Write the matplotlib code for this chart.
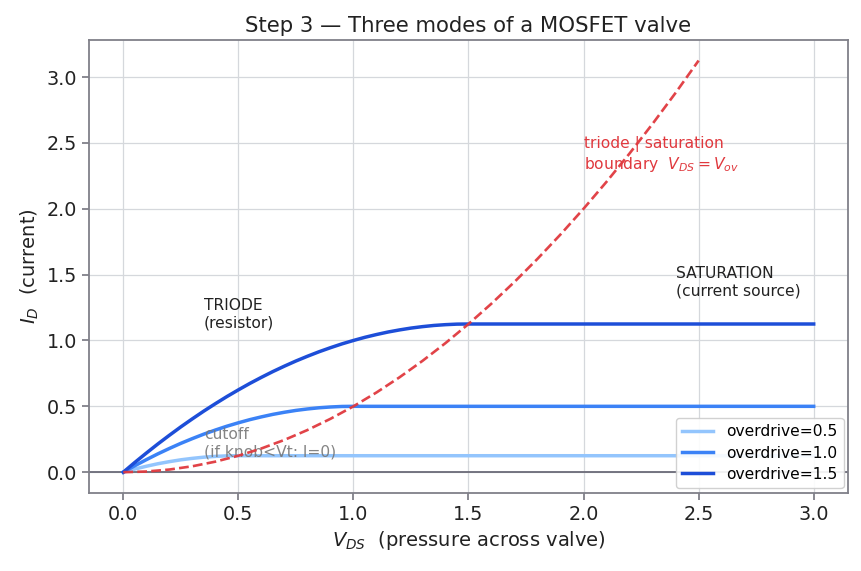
#! /usr/bin/env python3

import numpy as np
import matplotlib
matplotlib.use("Agg")
from matplotlib import pyplot as plt

# V_DS samples: denser along the bend, last point at 3.0
vds_ov05 = [0.0, 0.05, 0.1, 0.15, 0.2, 0.25, 0.3, 0.35, 0.4, 0.45, 0.5, 3.0]
id_ov05 = [0.0, 0.024, 0.045, 0.064, 0.08, 0.094, 0.105, 0.114, 0.12, 0.124, 0.125, 0.125]

vds_ov10 = [0.0, 0.05, 0.1, 0.15, 0.2, 0.25, 0.3, 0.35, 0.4, 0.45, 0.5,
            0.55, 0.6, 0.65, 0.7, 0.75, 0.8, 0.85, 0.9, 0.95, 1.0, 3.0]
id_ov10 = [0.0, 0.049, 0.095, 0.139, 0.18, 0.219, 0.255, 0.289, 0.32, 0.349, 0.375,
           0.399, 0.42, 0.439, 0.455, 0.469, 0.48, 0.489, 0.495, 0.499, 0.5, 0.5]

vds_ov15 = [0.0, 0.05, 0.1, 0.15, 0.2, 0.25, 0.3, 0.35, 0.4, 0.45, 0.5,
            0.55, 0.6, 0.65, 0.7, 0.75, 0.8, 0.85, 0.9, 0.95, 1.0,
            1.05, 1.1, 1.15, 1.2, 1.25, 1.3, 1.35, 1.4, 1.45, 1.5, 3.0]
id_ov15 = [0.0, 0.074, 0.145, 0.214, 0.28, 0.344, 0.405, 0.464, 0.52, 0.574, 0.625,
           0.674, 0.72, 0.764, 0.805, 0.844, 0.88, 0.914, 0.945, 0.974, 1.0,
           1.024, 1.045, 1.064, 1.08, 1.094, 1.105, 1.114, 1.12, 1.124, 1.125, 1.125]

overdrives = ["0.5", "1.0", "1.5"]

# triode / saturation boundary (V_DS = V_ov), up to V_DS = 2.5
vds_bnd = [0.0, 0.1, 0.2, 0.3, 0.4, 0.5, 0.6, 0.7, 0.8, 0.9, 1.0,
           1.1, 1.2, 1.3, 1.4, 1.5, 1.6, 1.7, 1.8, 1.9, 2.0,
           2.1, 2.2, 2.3, 2.4, 2.5]
id_bnd = [0.0, 0.005, 0.02, 0.045, 0.08, 0.125, 0.18, 0.245, 0.32, 0.405, 0.5,
          0.605, 0.72, 0.845, 0.98, 1.125, 1.28, 1.445, 1.62, 1.805, 2.0,
          2.205, 2.42, 2.645, 2.88, 3.125]

colors = ["#93c5fd", "#3b82f6", "#1d4ed8"]
spine_col = "#808089"

plt.rcParams["font.family"] = "DejaVu Sans"

fig, ax = plt.subplots(figsize=(8.62, 5.71), dpi=100)

series = [(vds_ov05, id_ov05), (vds_ov10, id_ov10), (vds_ov15, id_ov15)]
for ov, (xs, ys), c in zip(overdrives, series, colors):
    ax.plot(xs, ys, color=c, lw=2.5, label="overdrive=%s" % ov, zorder=3)

ax.plot(vds_bnd, id_bnd, color="#e0393e", lw=1.9, ls="--", zorder=4, alpha=0.95)
ax.axhline(0, color="#6b6b78", lw=1.3, zorder=2)

ax.text(2.0, 2.3, "triode | saturation\nboundary  $V_{DS}=V_{ov}$",
        color="#e0393e", fontsize=11.2)
ax.text(0.35, 1.1, "TRIODE\n(resistor)", color="#222222", fontsize=11.2)
ax.text(2.4, 1.34, "SATURATION\n(current source)", color="#222222", fontsize=11.2)
ax.text(0.35, 0.12, "cutoff\n(if knob<Vt: I=0)", color="#777777", fontsize=11.2, alpha=0.9)

ax.set_title("Step 3 \u2014 Three modes of a MOSFET valve", fontsize=15.3, color="#222222")
ax.set_xlabel("$V_{DS}$  (pressure across valve)", fontsize=14, color="#222222")
ax.set_ylabel("$I_D$  (current)", fontsize=14, color="#222222")

ax.grid(True, color="#d5d8dc", lw=0.9)
ax.set_axisbelow(True)
for s in ax.spines.values():
    s.set_color(spine_col)
    s.set_linewidth(1.3)
ax.tick_params(colors="#222222", labelsize=13.8, length=5, width=1.3)
ax.tick_params(axis="both", color=spine_col)
ax.set_xticks([0.0, 0.5, 1.0, 1.5, 2.0, 2.5, 3.0])
ax.set_yticks([0.0, 0.5, 1.0, 1.5, 2.0, 2.5, 3.0])

ax.legend(loc="lower right", fontsize=11.2, framealpha=0.9, handlelength=2.0,
          borderaxespad=0.3, labelspacing=0.4)

fig.subplots_adjust(left=0.103, right=0.984, top=0.93, bottom=0.137)
plt.savefig("out.png", dpi=100)
